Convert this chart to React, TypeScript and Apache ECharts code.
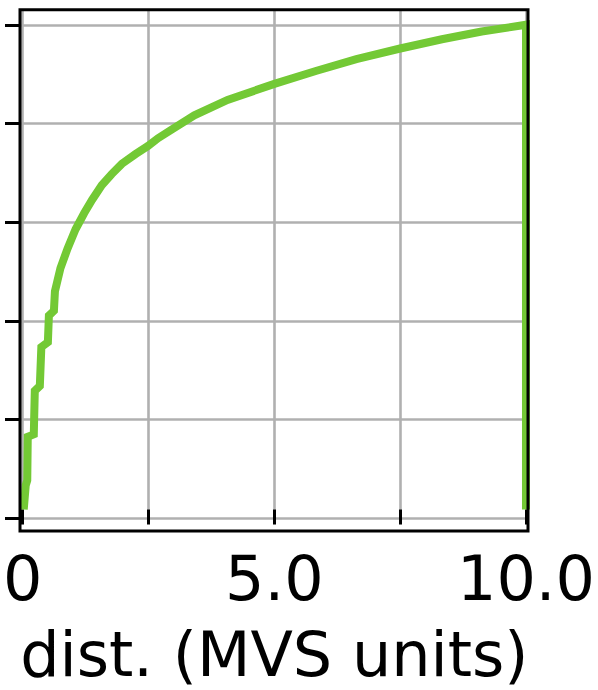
import React, { useEffect, useRef } from "react";
import * as echarts from "echarts";

// Distances (MVS units) and cumulative fraction
const distValues: number[] = [
  0.02, 0.06, 0.09, 0.1, 0.22, 0.24, 0.34, 0.37, 0.5, 0.52, 0.62, 0.64, 0.75,
  0.89, 1.05, 1.22, 1.38, 1.57, 1.77, 1.97, 2.24, 2.49, 2.69, 2.95, 3.41, 4.07,
  5.0, 5.84, 6.63, 7.5, 8.33, 9.12, 10.0, 10.0,
];
const cdfValues: number[] = [
  0.0, 0.05, 0.06, 0.15, 0.155, 0.245, 0.255, 0.335, 0.345, 0.4, 0.41, 0.45,
  0.498, 0.538, 0.578, 0.611, 0.639, 0.669, 0.692, 0.713, 0.733, 0.75, 0.766,
  0.783, 0.813, 0.845, 0.878, 0.905, 0.929, 0.951, 0.97, 0.986, 1.0, 0.0,
];

const xTickValues: number[] = [0, 2.5, 5, 7.5, 10];
const xTickLabels: string[] = ["0", "", "5.0", "", "10.0"];
const yTickValues: number[] = [0, 0.2, 0.4, 0.6, 0.8, 1.0];
const xAxisTitle = "dist. (MVS units)";

const FONT = "DejaVu Sans";

export default function App() {
  const ref = useRef<HTMLDivElement>(null);

  useEffect(() => {
    if (!ref.current) return;
    const chart = echarts.init(ref.current, null, { renderer: "svg" });

    const left = 20;
    const right = 528;
    const frameTop = 9.7;
    const frameBottom = 531;
    const tickTop = 25;
    const tickBottom = 518.3;
    const unit = tickBottom - tickTop;
    const yMaxOuter = (tickBottom - frameTop) / unit;
    const yMinOuter = -(frameBottom - tickBottom) / unit;

    const data = distValues.map((d, i) => [d, cdfValues[i]]);

    chart.setOption({
      animation: false,
      backgroundColor: "#ffffff",
      grid: [
        {
          left: left,
          width: right - left,
          top: frameTop,
          height: frameBottom - frameTop,
          containLabel: false,
        },
        {
          left: left,
          width: right - left,
          top: tickTop,
          height: tickBottom - tickTop,
          containLabel: false,
        },
      ],
      xAxis: [
        {
          type: "value",
          gridIndex: 0,
          min: 0,
          max: 10,
          interval: 2.5,
          axisLine: { show: false },
          axisTick: {
            show: true,
            inside: false,
            length: 15,
            lineStyle: { color: "#000", width: 3 },
          },
          splitLine: {
            show: true,
            lineStyle: { color: "#b0b0b0", width: 2.6 },
          },
          axisLabel: {
            show: true,
            margin: 25,
            fontFamily: FONT,
            fontSize: 62,
            color: "#000",
            showMinLabel: true,
            showMaxLabel: true,
            formatter: (v: number) => {
              const idx = xTickValues.findIndex((t) => Math.abs(t - v) < 1e-9);
              return idx >= 0 ? xTickLabels[idx] : "";
            },
          },
          name: xAxisTitle,
          nameLocation: "middle",
          nameGap: 101,
          nameTextStyle: { fontFamily: FONT, fontSize: 62, color: "#000" },
        },
        {
          type: "value",
          gridIndex: 1,
          min: 0,
          max: 10,
          show: false,
        },
      ],
      yAxis: [
        {
          type: "value",
          gridIndex: 0,
          min: yMinOuter,
          max: yMaxOuter,
          axisLine: { show: false },
          axisTick: { show: false },
          axisLabel: { show: false },
          splitLine: { show: false },
        },
        {
          type: "value",
          gridIndex: 1,
          min: yTickValues[0],
          max: yTickValues[yTickValues.length - 1],
          interval: 0.2,
          axisLine: { show: false },
          axisTick: {
            show: true,
            inside: false,
            length: 15,
            lineStyle: { color: "#000", width: 3 },
          },
          axisLabel: { show: false },
          splitLine: {
            show: true,
            lineStyle: { color: "#b0b0b0", width: 2.6 },
          },
        },
      ],
      series: [
        {
          type: "line",
          xAxisIndex: 0,
          yAxisIndex: 0,
          data,
          showSymbol: false,
          symbol: "none",
          clip: true,
          lineStyle: { color: "#73c935", width: 8, join: "miter" },
          z: 5,
        },
      ],
      graphic: [
        {
          type: "rect",
          z: 100,
          shape: {
            x: left,
            y: frameTop,
            width: right - left,
            height: frameBottom - frameTop,
          },
          style: { fill: "none", stroke: "#000", lineWidth: 3 },
          silent: true,
        },
      ],
    });

    return () => {
      chart.dispose();
    };
  }, []);

  return (
    <div
      ref={ref}
      style={{ position: "absolute", left: 0, top: 0, width: 598, height: 690 }}
    />
  );
}
